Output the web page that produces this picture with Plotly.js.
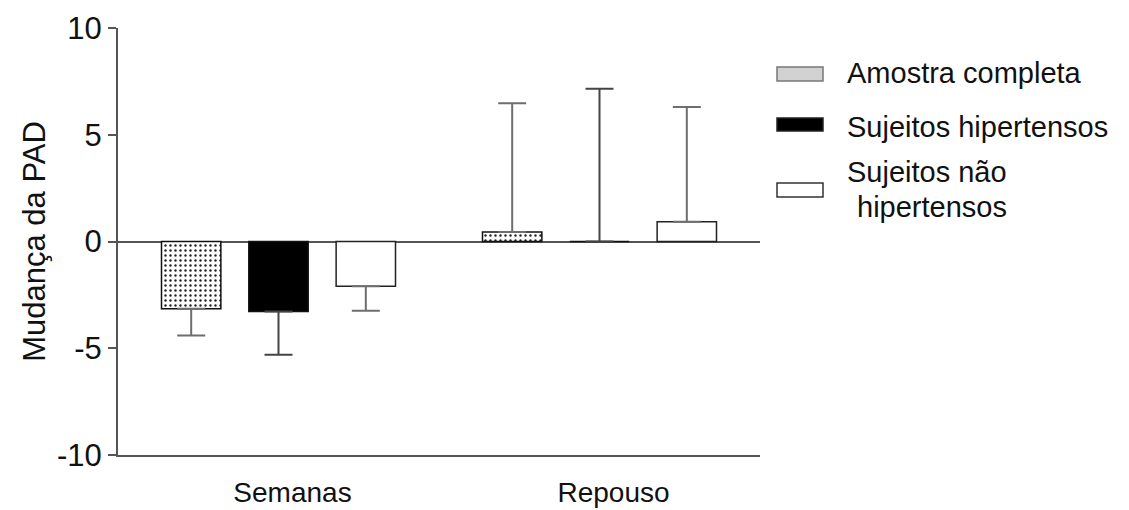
<!DOCTYPE html>
<html>
<head>
<meta charset="utf-8">
<script src="https://cdn.plot.ly/plotly-3.0.1.min.js"></script>
<style>html,body{margin:0;padding:0;background:#fff;}#chart{width:1129px;height:510px;}</style>
</head>
<body>
<div id="chart"></div>
<script>
// Data
var categories = ["Semanas", "Repouso"];
var seriesNames = ["Amostra completa", "Sujeitos hipertensos", "Sujeitos não hipertensos"];
var amostraValues = [-3.15, 0.45];
var amostraErrPlus = [0, 6.02];
var amostraErrMinus = [1.25, 0];
var hipertValues = [-3.28, 0];
var hipertErrPlus = [0, 7.15];
var hipertErrMinus = [2.03, 0];
var naoHipertValues = [-2.1, 0.92];
var naoHipertErrPlus = [0, 5.38];
var naoHipertErrMinus = [1.14, 0];
var yTicks = [-10, -5, 0, 5, 10];

var font = "Liberation Sans, Arial, sans-serif";

function errBar(plus, minus, color) {
  return {type: 'data', symmetric: false, array: plus, arrayminus: minus,
          color: color, thickness: 2, width: 14};
}

var traces = [
  {type: 'bar', name: seriesNames[0], x: categories, y: amostraValues,
   marker: {color: 'white', line: {color: '#111', width: 1.5},
            pattern: {shape: '.', fgcolor: '#222', bgcolor: 'white', size: 5, solidity: 0.18}},
   error_y: errBar(amostraErrPlus, amostraErrMinus, '#6e6e6e')},
  {type: 'bar', name: seriesNames[1], x: categories, y: hipertValues,
   marker: {color: 'black', line: {color: '#111', width: 1.5}},
   error_y: errBar(hipertErrPlus, hipertErrMinus, '#444')},
  {type: 'bar', name: seriesNames[2], x: categories, y: naoHipertValues,
   marker: {color: 'white', line: {color: '#222', width: 1.5}},
   error_y: errBar(naoHipertErrPlus, naoHipertErrMinus, '#6e6e6e')}
];

// legend drawn in paper coordinates
var L = 118, R = 760, T = 28, B = 455;
function px(x) { return (x - L) / (R - L); }
function py(y) { return (B - y) / (B - T); }

var shapes = [
  {type: 'rect', xref: 'paper', yref: 'paper', x0: px(777), x1: px(823), y0: py(81), y1: py(67),
   fillcolor: '#d2d2d2', line: {color: '#777', width: 1.5}},
  {type: 'rect', xref: 'paper', yref: 'paper', x0: px(777), x1: px(823), y0: py(131), y1: py(118),
   fillcolor: 'black', line: {color: '#222', width: 1.5}},
  {type: 'rect', xref: 'paper', yref: 'paper', x0: px(777), x1: px(823), y0: py(197), y1: py(183),
   fillcolor: 'white', line: {color: '#333', width: 1.5}}
];

function ann(text, x, y) {
  return {xref: 'paper', yref: 'paper', x: px(x), y: py(y), text: text, showarrow: false,
          xanchor: 'left', yanchor: 'middle', font: {family: font, size: 29, color: '#111'}};
}
var annotations = [
  ann("Amostra completa", 845, 73),
  ann("Sujeitos hipertensos", 845, 127),
  ann("Sujeitos não", 845, 172),
  ann("hipertensos", 855, 207)
];

var layout = {
  width: 1129, height: 510,
  margin: {l: L, r: 1129 - R, t: T, b: 510 - B},
  paper_bgcolor: 'white', plot_bgcolor: 'white',
  showlegend: false,
  barmode: 'group', bargap: 0.184, bargroupgap: 0.32,
  font: {family: font, color: '#111'},
  xaxis: {type: 'category', range: [-0.5, 1.5], showline: true, linecolor: '#555', linewidth: 2,
          ticks: 'outside', ticklen: 11, tickcolor: 'rgba(0,0,0,0)', showgrid: false, zeroline: false,
          ticklabelshift: 14,
          tickfont: {family: font, size: 28, color: '#111'}},
  yaxis: {range: [-10, 10], tickvals: yTicks, ticktext: yTicks.map(String),
          ticks: 'outside', ticklen: 8, tickwidth: 2, tickcolor: '#555',
          showline: true, linecolor: '#555', linewidth: 2, showgrid: false,
          zeroline: true, zerolinecolor: '#555', zerolinewidth: 2,
          tickfont: {family: font, size: 31, color: '#111'},
          title: {text: "Mudança da PAD", font: {family: font, size: 31, color: '#111'}, standoff: 2}},
  shapes: shapes,
  annotations: annotations
};

Plotly.newPlot('chart', traces, layout, {displayModeBar: false, staticPlot: true});
</script>
</body>
</html>
